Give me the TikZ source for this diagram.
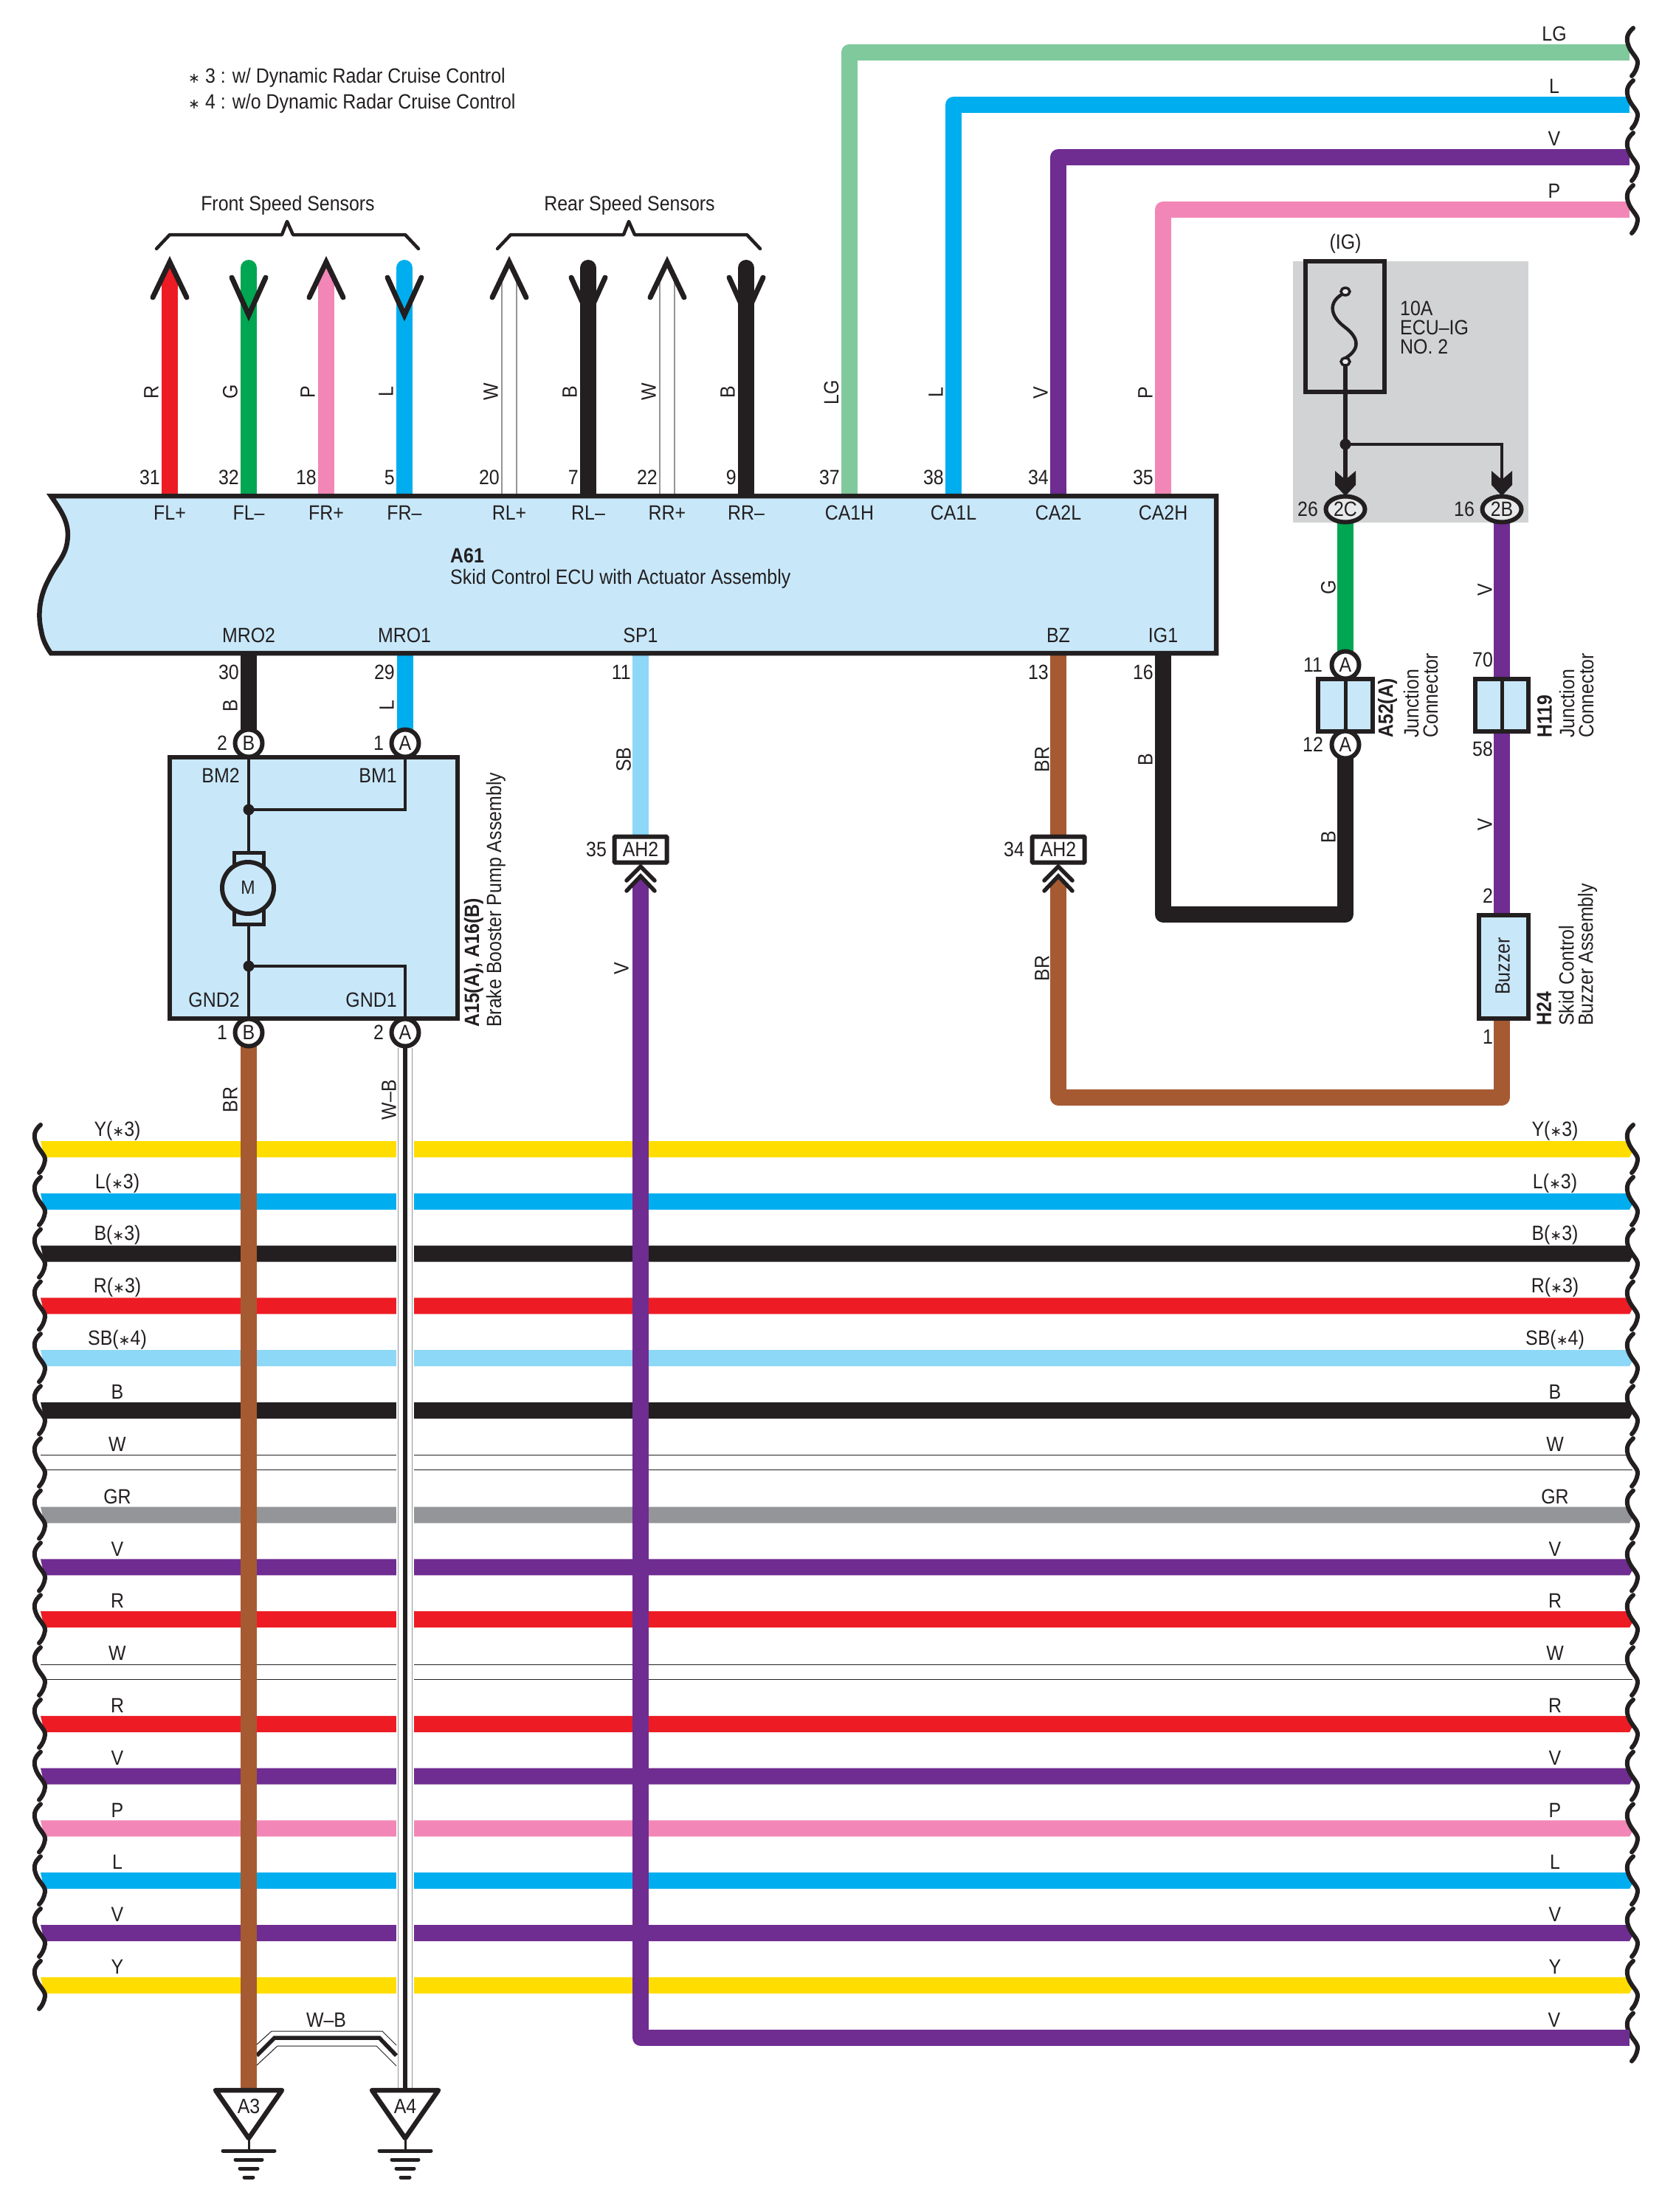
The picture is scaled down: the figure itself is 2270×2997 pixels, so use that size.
\documentclass[tikz,border=0pt]{standalone}
\usepackage{fontspec}
\setmainfont[FakeStretch=0.89]{Liberation Sans}
\newfontfamily\djv{DejaVu Sans}
\usetikzlibrary{shapes.geometric}
\definecolor{cLG}{HTML}{80C99D}
\definecolor{cL}{HTML}{00AEEF}
\definecolor{cV}{HTML}{6F2C91}
\definecolor{cP}{HTML}{F287B7}
\definecolor{cR}{HTML}{ED1C24}
\definecolor{cG}{HTML}{00A651}
\definecolor{cB}{HTML}{231F20}
\definecolor{cY}{HTML}{FFDD00}
\definecolor{cSB}{HTML}{8DD7F7}
\definecolor{cBR}{HTML}{A65A32}
\definecolor{cGR}{HTML}{939598}
\definecolor{cBox}{HTML}{C8E8FA}
\definecolor{cZone}{HTML}{D1D3D4}
\newcommand{\stx}{{\djv\fontsize{19}{20}\selectfont ∗}}
\tikzset{
  txt/.style={inner sep=0pt,text=cB,font=\fontsize{28}{30}\selectfont},
  vtxt/.style={txt,rotate=90},
  stxt/.style={vtxt,anchor=west},
  wire/.style={line width=22pt,line join=round},
  thinw/.style={line width=1.5pt,draw=cGR},
  chev/.style={draw=cB,line width=7pt,line cap=round,line join=miter},
  chevs/.style={draw=cB,line width=5.5pt,line cap=round,line join=miter},
  wavy/.style={draw=cB,line width=6pt,line cap=round},
  pin/.style={circle,draw=cB,fill=white,line width=6pt,minimum size=37pt,inner sep=0pt,text=cB,font=\fontsize{28}{30}\selectfont},
  oval/.style={ellipse,draw=cB,fill=cZone!50!white,line width=6pt,minimum width=53pt,minimum height=35pt,inner sep=0pt,text=cB,font=\fontsize{28}{30}\selectfont},
  conn/.style={rectangle,draw=cB,fill=white,line width=6pt,minimum width=71pt,minimum height=35pt,inner sep=0pt,rounded corners=1pt,text=cB,font=\fontsize{28}{30}\selectfont},
  blk/.style={draw=cB,fill=cBox,line width=6.5pt,line join=miter},
  thin/.style={draw=cB,line width=3.5pt},
  dot/.style={circle,fill=cB,inner sep=0pt,minimum size=15pt},
}
\newcommand{\wavebar}[2]{%
  \draw[wavy] (55+#1,#2-33) .. controls (46+#1,#2-25) and (45+#1,#2-18) .. (49+#1,#2-8)
    .. controls (53+#1,#2+2) and (62+#1,#2+8) .. (61+#1,#2+15)
    .. controls (60+#1,#2+22) and (57+#1,#2+28) .. (53+#1,#2+32);}
\newcommand{\gnd}[2]{%
  \coordinate (#1top) at (#2,2832);
  \coordinate (#1apex) at (#2,2897);
  \coordinate (#1base) at (#2,2914);
  \draw[cB,line width=3pt] (#1apex) -- (#1base);
  \draw[draw=cB,fill=white,line width=6.5pt,line join=round] (#2-45,2832) -- (#2+45,2832) -- (#1apex) -- cycle;
  \draw[cB,line width=5pt,line cap=round] (#2-35,2914) -- (#2+35,2914);
  \draw[cB,line width=5pt,line cap=round] (#2-18,2926) -- (#2+18,2926);
  \draw[cB,line width=5pt,line cap=round] (#2-12,2938) -- (#2+12,2938);
  \draw[cB,line width=5pt,line cap=round] (#2-6,2950) -- (#2+6,2950);}
\begin{document}
\begin{tikzpicture}[x=1pt,y=-1pt]
\useasboundingbox (0,0) rectangle (2270,2997);
% notes
\node[txt,anchor=west] (note3) at (255,105) {\stx\ 3 : w/ Dynamic Radar Cruise Control};
\node[txt,anchor=west] (note4) at (255,140) {\stx\ 4 : w/o Dynamic Radar Cruise Control};
% zone
\fill[cZone] (1752,354) rectangle (2071,708);
% horizontal bus
\foreach \n/\k/\c/\lab in {hY/0/cY/Y(\stx3),hL/1/cL/L(\stx3),hB/2/cB/B(\stx3),hR/3/cR/R(\stx3),hSB/4/cSB/SB(\stx4),hBb/5/cB/B,hGR/7/cGR/GR,hVa/8/cV/V,hRa/9/cR/R,hRb/11/cR/R,hVb/12/cV/V,hPa/13/cP/P,hLa/14/cL/L,hVc/15/cV/V,hYa/16/cY/Y}{
  \pgfmathsetmacro{\yy}{1557+70.8*\k}
  \fill[\c] (55,\yy-11) -- (2205,\yy-11) -- (2213,\yy+2) -- (2208,\yy+11) -- (60,\yy+11) -- cycle;
  \node[txt] (\n tl) at (159,\yy-25) {\lab};
  \node[txt] (\n tr) at (2107,\yy-25) {\lab};
}
\foreach \n/\k in {hWa/6,hWb/10}{
  \pgfmathsetmacro{\yy}{1557+70.8*\k}
  \draw[cB,line width=1pt] (55,\yy-10) -- (2208,\yy-10);
  \draw[cB,line width=1pt] (58,\yy+10) -- (2212,\yy+10);
  \node[txt] (\n tl) at (159,\yy-25) {W};
  \node[txt] (\n tr) at (2107,\yy-25) {W};
}
\foreach \k in {0,...,16}{ \pgfmathsetmacro{\yy}{1557+70.8*\k} \wavebar{0}{\yy} }
\foreach \k in {0,...,17}{ \pgfmathsetmacro{\yy}{1557+70.8*\k} \wavebar{2158}{\yy} }
% top wires
\foreach \n/\x/\y/\c/\lab in {tLG/1150.5/71/cLG/LG,tL/1292/142/cL/L,tV/1434/213/cV/V,tP/1576/284/cP/P}{
  \coordinate (\n e) at (\x,672);
  \coordinate (\n c) at (\x,\y);
  \coordinate (\n r) at (2208,\y);
  \draw[wire,\c] (\n e) -- (\n c) -- (\n r);
  \node[txt] (\n t) at (2106,\y-25) {\lab};
  \node[vtxt] (\n v) at (\x-24,532) {\lab};
}
\wavebar{2158}{71}\wavebar{2158}{142}\wavebar{2158}{213}\wavebar{2158}{284}
% speed sensor wires: up arrows
\foreach \n/\x/\c/\lab in {sFLp/230/cR/R,sFRp/442/cP/P}{
  \coordinate (\n a) at (\x,672);
  \coordinate (\n b) at (\x,378);
  \draw[wire,\c] (\n a) -- (\n b);
  \fill[\c] (\x-11,379) -- (\x,356) -- (\x+11,379) -- cycle;
  \draw[chev] (\x-23,403) -- (\x,355) -- (\x+23,403);
  \node[vtxt] (\n v) at (\x-25,531) {\lab};
}
\foreach \n/\x/\lab in {sRLp/690/W,sRRp/904/W}{
  \coordinate (\n a) at (\x,672);
  \draw[thinw] (\x-10,672) -- (\x-10,378);
  \draw[thinw] (\x+10,672) -- (\x+10,378);
  \draw[chev] (\x-23,403) -- (\x,355) -- (\x+23,403);
  \node[vtxt] (\n v) at (\x-25,531) {\lab};
}
\foreach \n/\x/\c/\lab in {sFLm/337/cG/G,sFRm/548/cL/L,sRLm/797/cB/B,sRRm/1011/cB/B}{
  \coordinate (\n a) at (\x,672);
  \coordinate (\n b) at (\x,363);
  \draw[wire,\c,line cap=round] (\n a) -- (\n b);
  \draw[chev] (\x-23,376) -- (\x,427) -- (\x+23,376);
  \node[vtxt] (\n v) at (\x-25,531) {\lab};
}
% brackets
\draw[cB,line width=4.5pt,line join=round,line cap=round] (212,337) -- (230,318) -- (382,318) -- (389,300) -- (397,318) -- (549,318) -- (567,337);
\draw[cB,line width=4.5pt,line join=round,line cap=round] (674,337) -- (692,318) -- (845,318) -- (852,300) -- (860,318) -- (1012,318) -- (1030,337);
\node[txt] (front) at (390,278) {Front Speed Sensors};
\node[txt] (rear) at (853,278) {Rear Speed Sensors};
% lower ecu wires
\coordinate (mro2a) at (337,885); \coordinate (mro2b) at (337,990);
\coordinate (mro1a) at (549,885); \coordinate (mro1b) at (549,990);
\draw[wire,cB] (mro2a) -- (mro2b);
\draw[wire,cL] (mro1a) -- (mro1b);
% brown ground wire
\coordinate (brA) at (337,1415); \coordinate (brB) at (337,2832);
% W-B vertical with halo
\fill[white] (537,1415) rectangle (561,2832);
\draw[thinw] (539.5,1420) -- (539.5,2832);
\draw[thinw] (558.5,1420) -- (558.5,2832);
\coordinate (wbA) at (549,1415); \coordinate (wbB) at (549,2832);
\draw[cB,line width=5.5pt] (wbA) -- (wbB);
% W-B cross link
\coordinate (xa) at (348,2785); \coordinate (xb) at (372,2761); \coordinate (xc) at (514,2761); \coordinate (xd) at (537,2785);
\fill[white] (348,2770) -- (368,2752) -- (518,2752) -- (537,2771) -- (537,2799) -- (510,2772) -- (376,2772) -- (348,2798) -- cycle;
\draw[cB,line width=1pt] (348,2770) -- (368,2752) -- (518,2752) -- (537,2771);
\draw[cB,line width=1pt] (348,2798) -- (376,2772) -- (510,2772) -- (537,2799);
\draw[cB,line width=5.5pt] (xa) -- (xb) -- (xc) -- (xd);
\node[txt] (wbx) at (442,2737) {W–B};
\draw[wire,cBR] (brA) -- (brB);
% SP1 wire
\coordinate (spa) at (868,885); \coordinate (spb) at (868,1135);
\draw[wire,cSB] (spa) -- (spb);
\coordinate (vsa) at (868,1198); \coordinate (vsc) at (868,2761); \coordinate (vsr) at (2208,2761);
\draw[wire,cV] (vsa) -- (vsc) -- (vsr);
\fill[cV] (857,1199) -- (868,1186) -- (879,1199) -- cycle;
\node[txt] (vfin) at (2106,2737) {V};
% BZ wire
\coordinate (bza) at (1434,885); \coordinate (bzb) at (1434,1135);
\draw[wire,cBR] (bza) -- (bzb);
\coordinate (bzc) at (1434,1198); \coordinate (bzd) at (1434,1486.5); \coordinate (bze) at (2035,1486.5); \coordinate (bzf) at (2035,1383);
\draw[wire,cBR] (bzc) -- (bzd) -- (bze) -- (bzf);
\fill[cBR] (1423,1199) -- (1434,1186) -- (1445,1199) -- cycle;
% IG1 wire
\coordinate (iga) at (1576,885); \coordinate (igb) at (1576,1239); \coordinate (igc) at (1823,1239); \coordinate (igd) at (1823,1025);
\draw[wire,cB] (iga) -- (igb) -- (igc) -- (igd);
% ecu
\draw[blk] (69,672) .. controls (85,695) and (95,710) .. (91,735) .. controls (88,755) and (75,765) .. (66,785) .. controls (55,805) and (50,830) .. (56,855) .. controls (58,868) and (64,878) .. (69,885) -- (1648,885) -- (1648,672) -- cycle;
\foreach \n/\x/\p/\s in {a/230/31/FL+,b/337/32/FL–,c/442/18/FR+,d/548/5/FR–,e/690/20/RL+,f/797/7/RL–,g/904/22/RR+,h/1011/9/RR–,i/1151/37/CA1H,j/1292/38/CA1L,k/1434/34/CA2L,l/1576/35/CA2H}{
  \node[txt,anchor=east] (pin\n) at (\x-13,647) {\p};
  \node[txt] (sig\n) at (\x,695) {\s};
}
\node[txt,anchor=west,font=\bfseries\fontsize{28}{30}\selectfont] (a61) at (610,753) {A61};
\node[txt,anchor=west] (a61b) at (610,784) {Skid Control ECU with Actuator Assembly};
\foreach \n/\x/\s/\p in {m/337/MRO2/30,o/548/MRO1/29,q/868/SP1/11,r/1434/BZ/13,t/1576/IG1/16}{
  \node[txt] (sg\n) at (\x,861) {\s};
  \node[txt,anchor=east] (pn\n) at (\x-13,911) {\p};
}
% vertical labels below ecu
\node[vtxt] (lb1) at (312,956) {B};
\node[vtxt] (lb2) at (524,956) {L};
\node[vtxt] (lb3) at (845,1029) {SB};
\node[vtxt] (lb4) at (1412,1029) {BR};
\node[vtxt] (lb5) at (1552,1029) {B};
\node[vtxt] (lb6) at (312,1490) {BR};
\node[vtxt] (lb7) at (527,1490) {W–B};
\node[vtxt] (lb8) at (842,1312) {V};
\node[vtxt] (lb9) at (1412,1312) {BR};
\node[vtxt] (lb10) at (1800,1134) {B};
\node[vtxt] (lb11) at (2012,1117) {V};
\node[vtxt] (lb12) at (2012,799) {V};
\node[vtxt] (lb13) at (1800,796) {G};
% AH2
\node[conn] (ah1) at (868,1151) {AH2};
\node[conn] (ah2) at (1434,1151) {AH2};
\node[txt] (ah1p) at (808,1151) {35};
\node[txt] (ah2p) at (1374,1151) {34};
\foreach \x in {868,1434}{
  \draw[chevs] (\x-19,1193) -- (\x,1174) -- (\x+19,1193);
  \draw[chevs] (\x-19,1207) -- (\x,1187) -- (\x+19,1207);
}
% pump
\draw[blk] (230,1026) rectangle (620,1380);
\coordinate (ja) at (337,1097); \coordinate (jb) at (337,1309);
\coordinate (bm1) at (549,1026); \coordinate (bm1c) at (549,1097);
\coordinate (gd1) at (549,1380); \coordinate (gd1c) at (549,1309);
\draw[thin] (337,1026) -- (337,1380);
\draw[thin] (ja) -- (bm1c) -- (bm1);
\draw[thin] (jb) -- (gd1c) -- (gd1);
\node[dot] (dja) at (ja) {};
\node[dot] (djb) at (jb) {};
\draw[draw=cB,fill=cBox,line width=5pt] (317,1155) rectangle (357,1178);
\draw[draw=cB,fill=cBox,line width=5pt] (317,1230) rectangle (357,1252);
\node[circle,draw=cB,fill=cBox,line width=6pt,minimum size=70pt,inner sep=0pt,text=cB,font=\fontsize{26}{28}\selectfont] (mot) at (336,1203) {M};
\node[txt] (tbm2) at (299,1051) {BM2};
\node[txt] (tbm1) at (512,1051) {BM1};
\node[txt] (tg2) at (290,1355) {GND2};
\node[txt] (tg1) at (503,1355) {GND1};
\node[pin] (pb1) at (337,1007) {B};
\node[pin] (pa1) at (549,1007) {A};
\node[pin] (pb2) at (337,1399) {B};
\node[pin] (pa2) at (549,1399) {A};
\node[txt] (n1) at (301,1007) {2};
\node[txt] (n2) at (513,1007) {1};
\node[txt] (n3) at (301,1399) {1};
\node[txt] (n4) at (513,1399) {2};
\node[stxt,font=\bfseries\fontsize{28}{30}\selectfont] (a15) at (642,1392) {A15(A), A16(B)};
\node[stxt] (bbpa) at (672,1392) {Brake Booster Pump Assembly};
% fuse
\node[txt] (ig) at (1823,330) {(IG)};
\draw[draw=cB,line width=6.5pt,line join=miter] (1769,354) rectangle (1876,531);
\coordinate (fb) at (1823,490); \coordinate (fj) at (1823,602); \coordinate (fc) at (1823,665);
\coordinate (fk) at (2035,602); \coordinate (fd) at (2035,665);
\draw[cB,line width=5.5pt] (fb) -- (fj) -- (fc);
\draw[cB,line width=4pt,line join=miter] (fj) -- (fk) -- (fd);
\node[dot] (dfj) at (fj) {};
\draw[cB,line width=4.5pt] (1818,399) .. controls (1800,410) and (1802,428) .. (1822,443) .. controls (1842,458) and (1844,474) .. (1820,487);
\draw[cB,fill=cZone!50!white,line width=3.5pt] (1823,395) ellipse (6pt and 5pt);
\draw[cB,fill=cZone!50!white,line width=3.5pt] (1823,490) ellipse (6pt and 5pt);
\foreach \x in {1823,2035}{
  \fill[cB] (\x-14,638) -- (\x,650) -- (\x+14,638) -- (\x+14,657) -- (\x,672) -- (\x-14,657) -- cycle;
}
\node[txt,anchor=west,align=left,font=\fontsize{28}{26}\selectfont] (fn) at (1897,444) {10A\\ECU–IG\\NO. 2};
% right branch wires
\coordinate (ga) at (1823,700); \coordinate (gb) at (1823,885);
\draw[wire,cG] (ga) -- (gb);
\coordinate (va) at (2035,700); \coordinate (vb) at (2035,1241);
\draw[wire,cV] (va) -- (vb);
\node[oval] (c2c) at (1823,690) {2C};
\node[oval] (c2b) at (2035,690) {2B};
\node[txt] (t26) at (1772,690) {26};
\node[txt] (t16) at (1984,690) {16};
% junction connectors
\draw[blk] (1786,920) rectangle (1860,991);
\draw[cB,line width=5pt] (1823,920) -- (1823,991);
\draw[blk] (1999,920) rectangle (2071,991);
\draw[cB,line width=5pt] (2035,920) -- (2035,991);
\node[pin] (ja1) at (1823,901) {A};
\node[pin] (ja2) at (1823,1009) {A};
\node[txt] (t11) at (1779,901) {11};
\node[txt] (t12) at (1779,1009) {12};
\node[txt] (t70) at (2009,894) {70};
\node[txt] (t58) at (2009,1015) {58};
\node[stxt,font=\bfseries\fontsize{28}{30}\selectfont] (a52) at (1880,1000) {A52(A)};
\node[stxt,font=\fontsize{28}{26}\selectfont,align=left] (jc1) at (1925,1000) {Junction\\Connector};
\node[stxt,font=\bfseries\fontsize{28}{30}\selectfont] (h119) at (2093,1000) {H119};
\node[stxt,font=\fontsize{28}{26}\selectfont,align=left] (jc2) at (2136,1000) {Junction\\Connector};
% buzzer
\draw[blk] (2004,1240) rectangle (2071,1380);
\node[vtxt] (buz) at (2036,1309) {Buzzer};
\node[txt] (t2) at (2016,1214) {2};
\node[txt] (t1) at (2016,1405) {1};
\node[stxt,font=\bfseries\fontsize{28}{30}\selectfont] (h24) at (2092,1390) {H24};
\node[stxt,font=\fontsize{28}{26}\selectfont,align=left] (sk) at (2138,1390) {Skid Control\\Buzzer Assembly};
% grounds
\gnd{ga3}{337}
\gnd{ga4}{549}
\node[txt] (a3) at (337,2854) {A3};
\node[txt] (a4) at (549,2854) {A4};
\end{tikzpicture}
\end{document}
